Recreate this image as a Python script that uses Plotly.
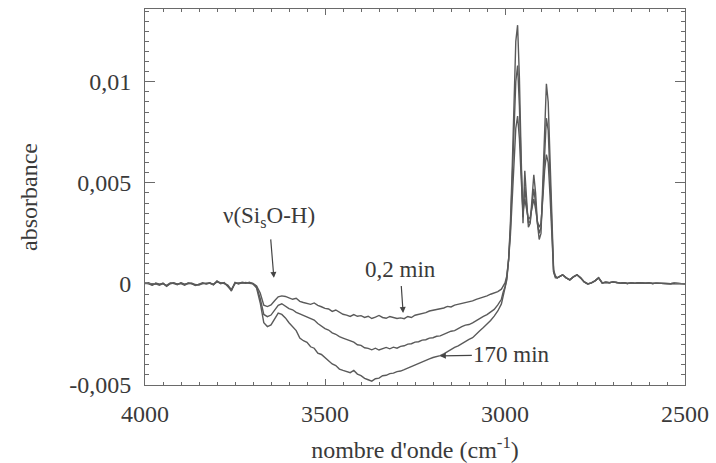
import plotly.graph_objects as go

# ---------------- data (absorbance values in units of 1e-4) ----------------
wn_left = list(range(4000, 3699, -10))          # 4000 .. 3700
left_A = [0.5, 0.3, -0.5, 0.2, -0.3, 0.4, -1.0, 0.3, 0.6, -0.2, 0.4, -0.4, 0.5, 0.2, -0.6,
          -0.3, 0.4, 0.1, 0.6, -0.3, 1.5, 0.3, 0.5, -1.0, -3.5, 0.5, 0.2, 0.8, 0.5, 0.6, 0.3]
left_B = [0.2, 0.6, -0.2, 0.0, -0.6, 0.1, -0.7, 0.5, 0.2, -0.4, 0.6, -0.1, 0.2, 0.4, -0.3,
          -0.6, 0.1, 0.4, 0.3, -0.1, 1.0, 0.6, 0.2, -0.6, -2.8, 0.2, 0.5, 0.4, 0.7, 0.3, 0.1]
left_C = [0.3, 0.0, -0.7, 0.4, -0.1, 0.2, -1.2, 0.1, 0.4, 0.0, 0.2, -0.6, 0.3, 0.0, -0.8,
          -0.1, 0.6, -0.1, 0.4, -0.5, 1.2, 0.1, 0.7, -1.3, -3.0, 0.7, 0.0, 0.6, 0.3, 0.8, 0.0]

wn_oh = list(range(3690, 3009, -10))            # 3690 .. 3010
oh_A = [-1.0, -4.5, -10.5, -11.2, -10.4, -8.3, -6.4, -5.9, -6.2, -6.9, -7.6, -7.1, -8.6, -9.2,
        -9.6, -10.1, -9.4, -10.6, -11.3, -12.1, -12.4, -13.6, -12.9, -14.1, -15.0, -15.4, -16.1,
        -15.2, -16.0, -15.7, -16.6, -16.0, -17.1, -16.4, -15.6, -16.6, -17.0, -16.1, -16.6, -17.1,
        -16.8, -17.2, -16.1, -16.6, -15.5, -15.1, -14.6, -14.2, -13.4, -13.1, -12.6, -12.4, -11.9,
        -11.1, -11.4, -10.5, -10.1, -9.4, -9.1, -8.7, -8.4, -7.6, -7.1, -6.4, -5.9, -5.1, -4.4,
        -3.8, -2.6]
oh_B = [-1.5, -7.2, -15.1, -16.2, -15.4, -12.8, -10.6, -9.8, -11.1, -12.2, -12.8, -14.1, -14.8,
        -15.6, -16.3, -17.4, -17.9, -19.6, -20.8, -22.1, -22.8, -24.2, -24.9, -26.1, -26.8, -27.6,
        -28.1, -28.8, -30.1, -30.4, -31.6, -31.9, -32.6, -31.8, -32.7, -31.9, -31.4, -32.1, -31.3,
        -31.8, -30.9, -30.6, -29.8, -29.6, -28.8, -28.6, -27.8, -27.6, -26.8, -26.6, -25.9, -25.7,
        -24.8, -24.1, -23.4, -23.1, -21.9, -21.1, -20.4, -20.1, -19.3, -18.1, -17.2, -16.1, -15.2,
        -13.9, -12.6, -10.4, -7.6]
oh_C = [-2.0, -9.3, -19.2, -21.1, -20.3, -17.2, -14.4, -15.1, -16.8, -19.2, -20.9, -23.1, -26.8,
        -28.1, -28.9, -31.1, -31.8, -34.2, -34.9, -36.6, -37.8, -39.6, -40.4, -42.1, -42.8, -43.2,
        -43.9, -42.8, -44.6, -45.4, -46.7, -47.4, -48.1, -46.9, -46.6, -45.4, -45.2, -44.4, -44.1,
        -43.4, -43.1, -42.4, -41.6, -40.9, -40.1, -39.4, -38.6, -37.9, -37.1, -36.4, -36.1, -35.5,
        -34.6, -33.4, -32.6, -31.4, -30.6, -29.4, -28.6, -27.4, -26.6, -25.1, -23.2, -21.6, -19.9,
        -18.1, -15.9, -13.4, -9.9]

wn_ch = list(range(3005, 2854, -5))             # 3005 .. 2855
ch_A = [-1.0, 0.5, 4, 12, 24, 42, 62, 77, 83, 72, 52, 36, 42, 36, 32, 33, 38, 42, 37, 31, 28, 30,
        42, 56, 64, 60, 44, 20, 6, 3, 3]
ch_B = [-4, -1.5, 3, 12, 27, 50, 76, 100, 108, 88, 58, 33, 48, 38, 30, 31, 40, 47, 40, 30, 25, 28,
        45, 68, 82, 76, 52, 22, 6, 3.5, 3]
ch_C = [-6, -3, 2, 12, 30, 57, 90, 120, 128, 102, 62, 30, 56, 40, 28, 30, 43, 54, 45, 30, 22, 25,
        50, 80, 99, 90, 60, 25, 7, 4, 3]

wn_right = list(range(2850, 2499, -10))         # 2850 .. 2500
right_all = [3.5, 4.5, 3.0, 2.0, 3.5, 4.5, 3.0, 1.0, 0.0, 0.5, 1.5, 3.0, 0.5, 0.8, 0.6, 1.0, 0.7,
             0.4, 0.6, 0.2, 0.5, 0.3, 0.6, 0.4, 0.3, 0.5, 0.2, 0.4, 0.3, 0.2, 0.4, 0.1, 0.3, 0.2,
             0.1, 0.0]

x_ticks = [4000, 3500, 3000, 2500]
y_ticks = [-0.005, 0, 0.005, 0.01]
y_ticktext = ["-0,005", "0", "0,005", "0,01"]

assert len(wn_left) == len(left_A) == len(left_B) == len(left_C)
assert len(wn_oh) == len(oh_A) == len(oh_B) == len(oh_C)
assert len(wn_ch) == len(ch_A) == len(ch_B) == len(ch_C)
assert len(wn_right) == len(right_all)

wn = wn_left + wn_oh + wn_ch + wn_right
series = {
    "0,2 min": left_A + oh_A + ch_A + right_all,
    "intermédiaire": left_B + oh_B + ch_B + right_all,
    "170 min": left_C + oh_C + ch_C + right_all,
}

FONT = "Times New Roman, Liberation Serif, DejaVu Serif, serif"
TXT = "#3a3a3a"
LINE = "#5a5a5a"
AX = "#6a6a6a"

fig = go.Figure()
for name, vals in series.items():
    fig.add_trace(go.Scatter(x=wn, y=[v * 1e-4 for v in vals], mode="lines", name=name,
                             line=dict(color=LINE, width=1.4), showlegend=False))

axis_common = dict(showline=True, linecolor=AX, linewidth=1, mirror="ticks",
                   ticks="inside", tickcolor=AX, showgrid=False, zeroline=False,
                   automargin=False,
                   tickfont=dict(family=FONT, size=24, color=TXT))

fig.update_xaxes(range=[4000, 2500], tickvals=x_ticks, ticklen=6, ticklabelstandoff=7,
                 minor=dict(dtick=50, ticks="inside", ticklen=3, tickcolor=AX),
                 title=dict(text="nombre d'onde (cm<sup>-1</sup>)",
                            font=dict(family=FONT, size=24, color=TXT), standoff=22),
                 **axis_common)
fig.update_yaxes(range=[-0.005, 0.0136], tickvals=y_ticks, ticktext=y_ticktext, ticklen=10,
                 ticklabelstandoff=8,
                 minor=dict(dtick=0.0005, ticks="inside", ticklen=4, tickcolor=AX),
                 title=dict(text="absorbance", font=dict(family=FONT, size=24, color=TXT),
                            standoff=24),
                 **axis_common)

ann_font = dict(family=FONT, size=23, color=TXT)
# nu(SisO-H) label with arrow pointing down at the shoulder
fig.add_annotation(x=3642, y=0.0003, text="ν(Si<sub>s</sub>O-H)", font=ann_font,
                   showarrow=True, arrowhead=2, arrowsize=1, arrowwidth=1.2, arrowcolor="#444",
                   ax=-5, ay=-61, borderpad=8)
# 0,2 min label with arrow
fig.add_annotation(x=3283, y=-0.00144, text="0,2 min", font=ann_font,
                   showarrow=True, arrowhead=2, arrowsize=1, arrowwidth=1.2, arrowcolor="#444",
                   ax=-3, ay=-44, borderpad=4)
# 170 min label with arrow
fig.add_annotation(x=3181, y=-0.00356, text="170 min", font=ann_font,
                   showarrow=True, arrowhead=2, arrowsize=1, arrowwidth=1.2, arrowcolor="#444",
                   ax=72, ay=-1, borderpad=1)

fig.update_layout(width=716, height=463, margin=dict(l=145, r=31, t=9, b=78),
                  paper_bgcolor="white", plot_bgcolor="white")
fig.write_html("out.html")
